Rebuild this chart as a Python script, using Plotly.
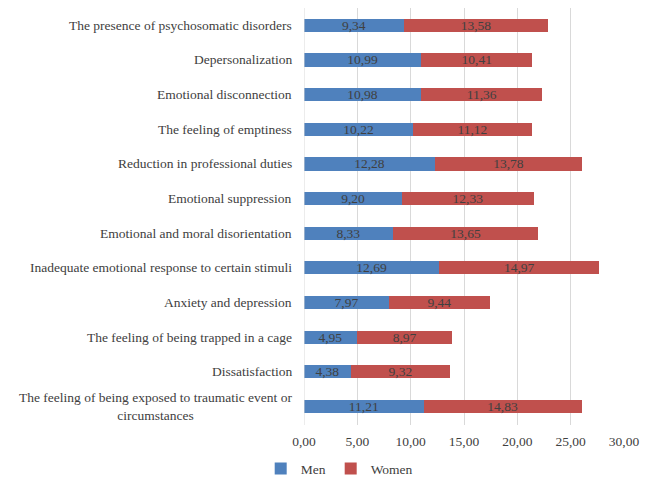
import plotly.graph_objects as go

categories = [
    "The presence of psychosomatic disorders",
    "Depersonalization",
    "Emotional disconnection",
    "The feeling of emptiness",
    "Reduction in professional duties",
    "Emotional suppression",
    "Emotional and moral disorientation",
    "Inadequate emotional response to certain stimuli",
    "Anxiety and depression",
    "The feeling of being trapped in a cage",
    "Dissatisfaction",
    "The feeling of being exposed to traumatic event or<br>circumstances",
]
men = [9.34, 10.99, 10.98, 10.22, 12.28, 9.20, 8.33, 12.69, 7.97, 4.95, 4.38, 11.21]
women = [13.58, 10.41, 11.36, 11.12, 13.78, 12.33, 13.65, 14.97, 9.44, 8.97, 9.32, 14.83]
x_ticks = [0, 5, 10, 15, 20, 25, 30]

FONT = "Liberation Serif"
ids = list(range(len(categories)))

fig = go.Figure()
fig.add_trace(go.Bar(
    y=ids, x=men, orientation="h", name="Men",
    marker=dict(color="#4F81BD", line=dict(width=0)),
    texttemplate="%{x:.2f}", textposition="inside", insidetextanchor="middle",
    constraintext="none", textangle=0,
    insidetextfont=dict(family=FONT, size=13.5, color="#404040"),
))
fig.add_trace(go.Bar(
    y=ids, x=women, orientation="h", name="Women",
    marker=dict(color="#C0504D", line=dict(width=0)),
    texttemplate="%{x:.2f}", textposition="inside", insidetextanchor="middle",
    constraintext="none", textangle=0,
    insidetextfont=dict(family=FONT, size=13.5, color="#404040"),
))

for i, c in enumerate(categories):
    fig.add_annotation(
        x=0, xref="paper", y=i, yref="y", text=c, showarrow=False,
        xanchor="right", xshift=-10, align="center",
        font=dict(family=FONT, size=13.5, color="#404040"),
    )

fig.update_layout(
    barmode="stack", bargap=0.62,
    width=654, height=479,
    margin=dict(l=304, r=30, t=8, b=54, autoexpand=False),
    paper_bgcolor="white", plot_bgcolor="white",
    separators=",.",
    font=dict(family=FONT, size=13.5, color="#404040"),
    showlegend=True,
    legend=dict(orientation="h", traceorder="normal", x=0.11, xanchor="center",
                y=-0.105, yanchor="middle",
                font=dict(family=FONT, size=13.5, color="#404040"),
                itemwidth=30, tracegroupgap=0),
)
fig.update_xaxes(
    range=[0, 30], tickvals=x_ticks, tickformat=".2f",
    showgrid=True, gridcolor="#D9D9D9", gridwidth=1,
    zeroline=False, showline=False, ticks="", ticklabelstandoff=6,
    tickfont=dict(family=FONT, size=13.5, color="#404040"),
)
fig.update_yaxes(
    autorange="reversed", showticklabels=False, showgrid=False,
    zeroline=False, showline=False, ticks="",
)
fig.add_shape(type="line", xref="x", yref="paper", x0=0, x1=0, y0=0, y1=1,
              line=dict(color="#D9D9D9", width=1))

fig.write_html("out.html")
